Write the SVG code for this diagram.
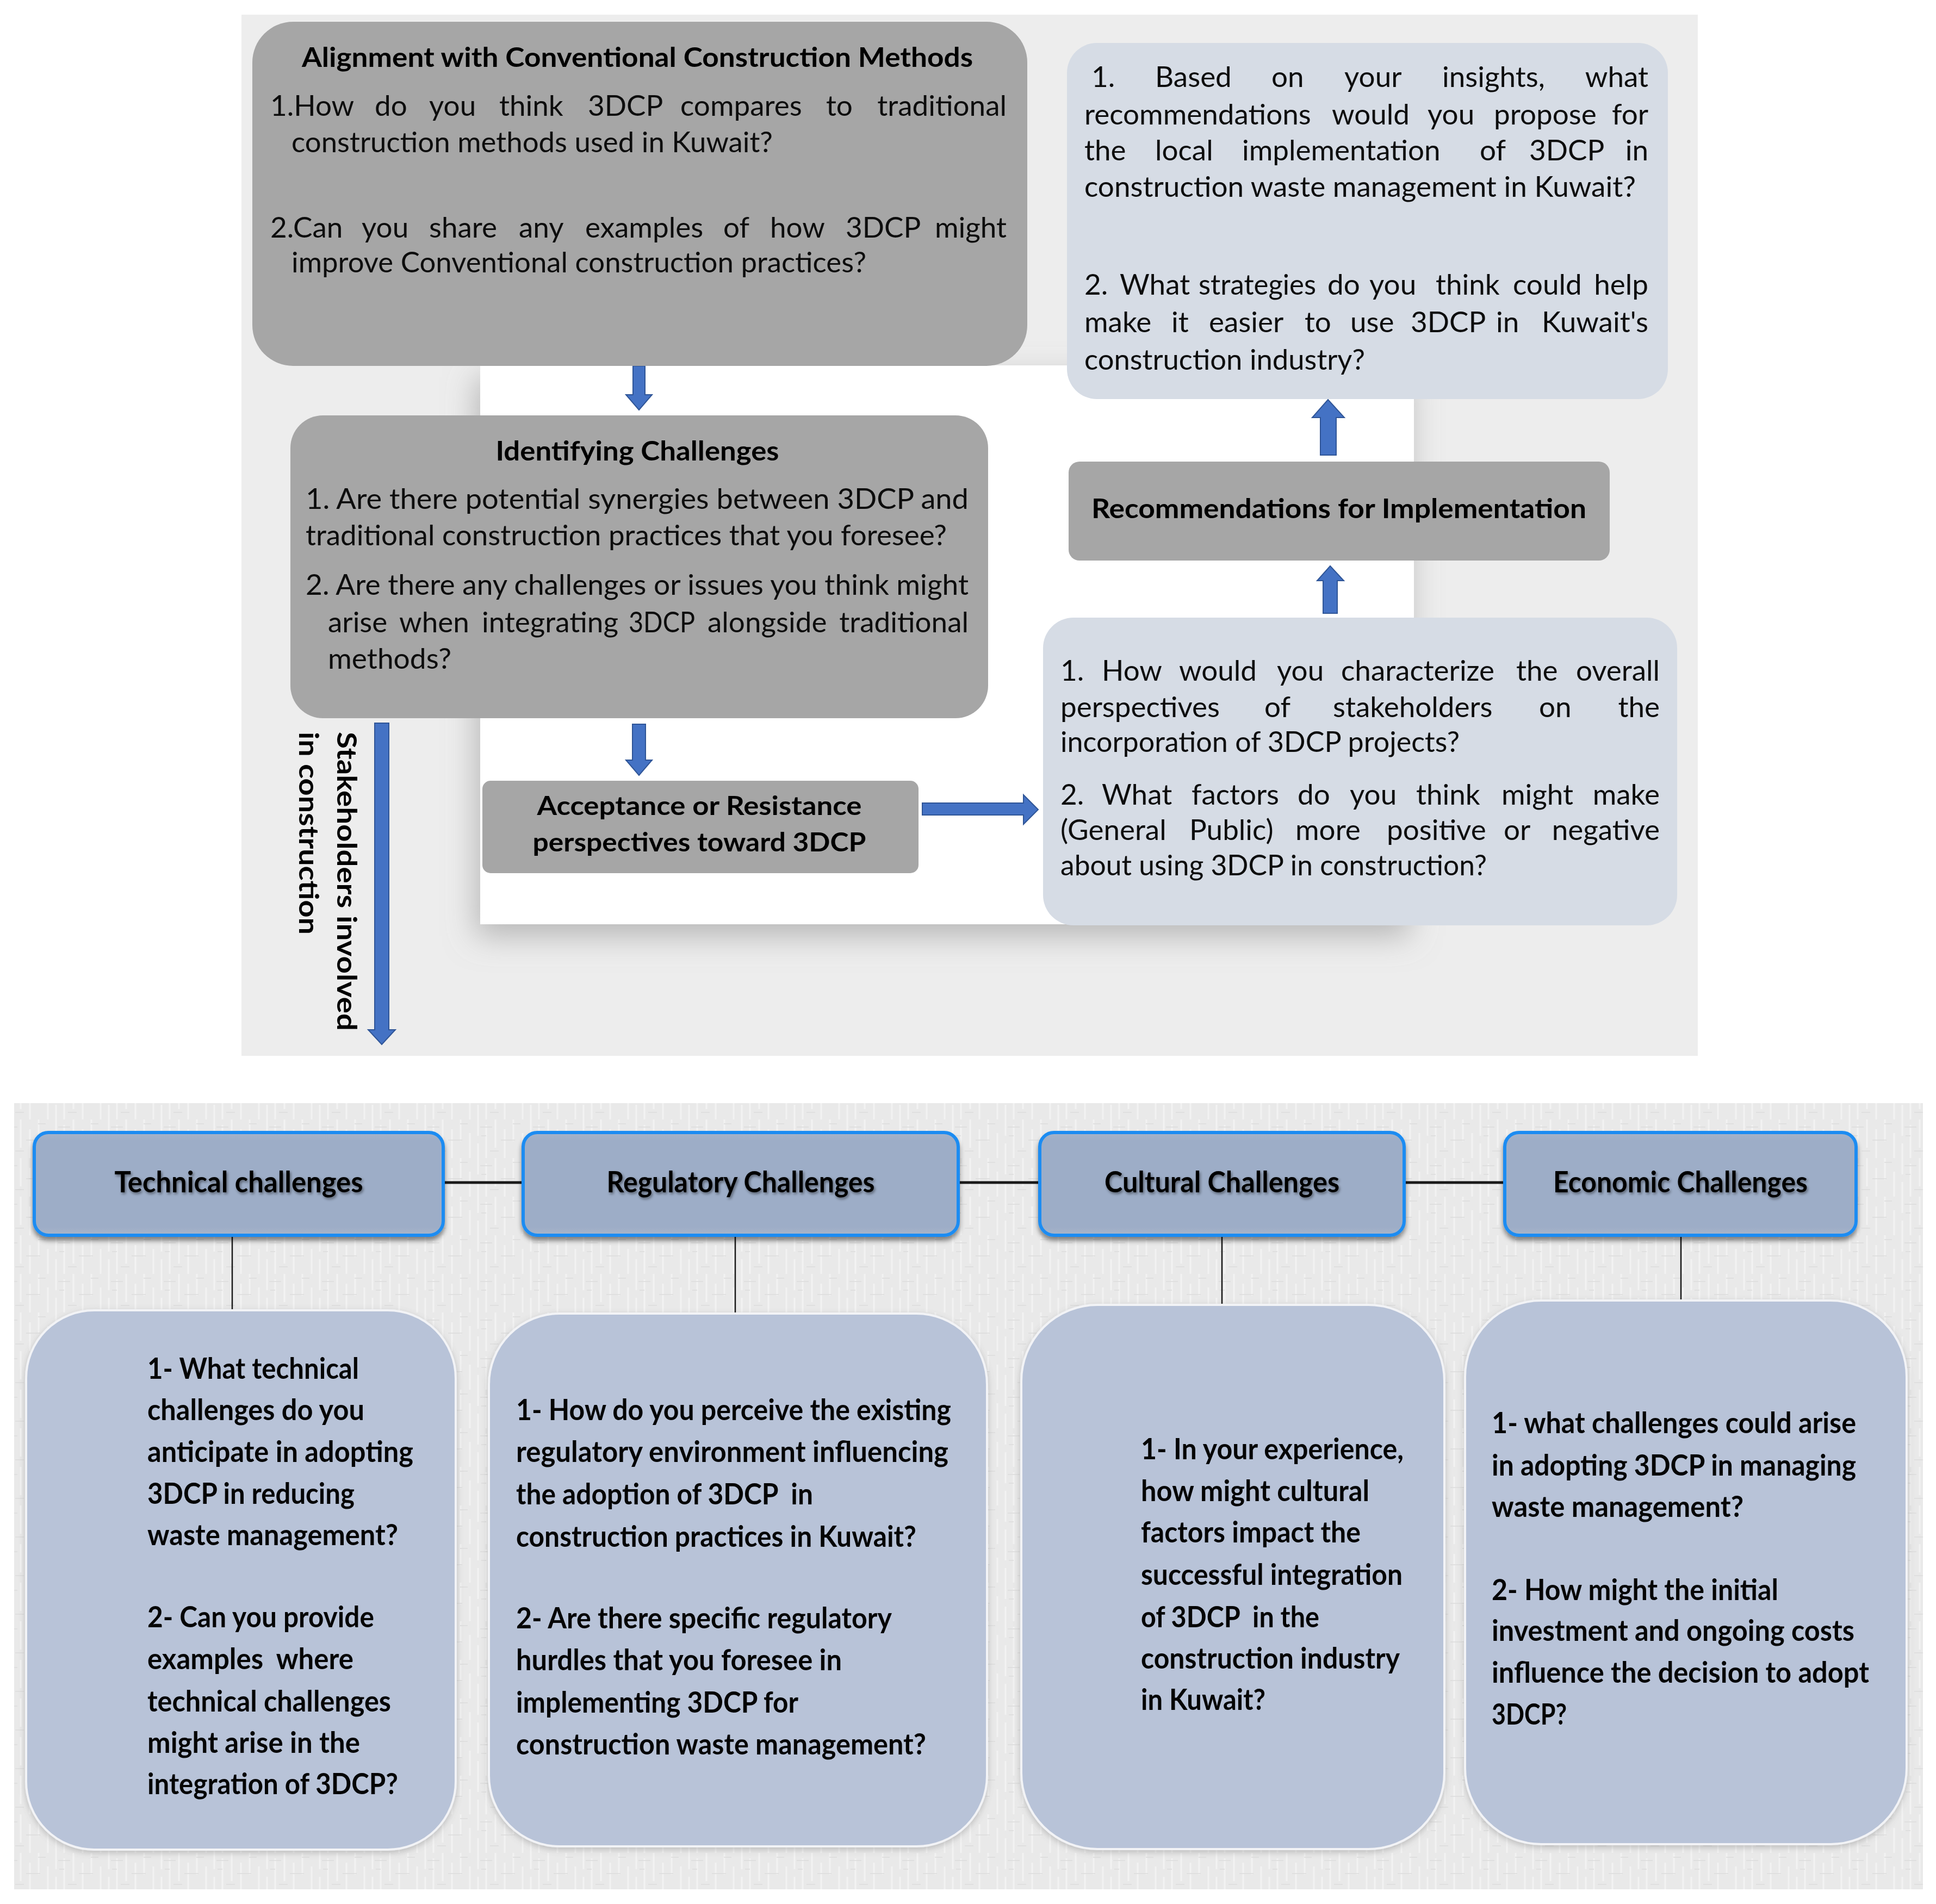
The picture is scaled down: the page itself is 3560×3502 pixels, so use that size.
<svg xmlns="http://www.w3.org/2000/svg" width="3560" height="3502" viewBox="0 0 3560 3502">
<defs>
<style>
text{font-family:Lato,"Open Sans","Liberation Sans",sans-serif;fill:#0d0d0d}
.b{font-size:53px}
.t{font-size:50px;font-weight:bold;fill:#000}
.bb{font-size:54px;font-weight:bold;fill:#050505}
.hd{font-size:54px;font-weight:bold;fill:#000;filter:url(#tsh)}
.gray{fill:#a6a6a6}
.light{fill:#d6dce5}
.arrow{fill:#4472c4;stroke:#2f5597;stroke-width:2}
.hbox{fill:url(#hgrad);stroke:#1b8cf2;stroke-width:6;filter:url(#sh)}
.body{fill:#b8c3d8;stroke:#f2f3f6;stroke-width:4;filter:url(#sh2)}
.ln{stroke:#1a1a1a;fill:none}
</style>
<linearGradient id="hgrad" x1="0" y1="0" x2="0" y2="1">
<stop offset="0" stop-color="#a6b3c9"/>
<stop offset="0.08" stop-color="#9dadc7"/>
<stop offset="0.92" stop-color="#9dadc7"/>
<stop offset="1" stop-color="#a9b5c9"/>
</linearGradient>
<filter id="sh" x="-10%" y="-10%" width="120%" height="140%">
<feDropShadow dx="0" dy="7" stdDeviation="4" flood-color="#000" flood-opacity="0.45"/>
</filter>
<filter id="sh2" x="-10%" y="-10%" width="120%" height="120%">
<feDropShadow dx="0" dy="4" stdDeviation="6" flood-color="#666" flood-opacity="0.35"/>
</filter>
<filter id="wsh" x="-10%" y="-10%" width="120%" height="130%">
<feDropShadow dx="-8" dy="22" stdDeviation="28" flood-color="#8a8a8a" flood-opacity="0.55"/>
</filter>
<filter id="tsh" x="-5%" y="-20%" width="110%" height="160%">
<feDropShadow dx="2" dy="3" stdDeviation="2.5" flood-color="#000" flood-opacity="0.45"/>
</filter>
<pattern id="tex" width="97" height="71" patternUnits="userSpaceOnUse">
<rect width="97" height="71" fill="#e9e9e9"/>
<path d="M6 0v30M6 44v27M21 10v61M38 0v52M55 18v53M71 0v40M88 25v46" stroke="#f4f4f4" stroke-width="3" opacity="0.8"/>
<path d="M10 14h22M48 38h26M28 58h16M70 8h14M12 30h9" stroke="#dcdcdc" stroke-width="2" opacity="0.8"/>
</pattern>
</defs>

<rect width="3560" height="3502" fill="#ffffff"/>

<!-- top panel background -->
<rect id="top-bg" x="444" y="27" width="2678" height="1915" fill="#ededed"/>
<rect id="top-white" x="883" y="672" width="1717" height="1028" fill="#ffffff" filter="url(#wsh)"/>

<!-- bottom panel background -->
<rect id="bottom-bg" x="26" y="2029" width="3510" height="1446" fill="url(#tex)"/>

<g id="connectors">
<path class="arrow" d="M1164,673 H1186 V726 H1199 L1175,754 L1151,726 H1164 Z"/>
<path class="arrow" d="M1163,1332 H1187 V1398 H1199 L1175,1426 L1151,1398 H1163 Z"/>
<path class="arrow" d="M689,1330 H715 V1894 H727 L702,1921 L677,1894 H689 Z"/>
<path class="arrow" d="M1696,1477 H1882 V1462 L1909,1489 L1882,1516 V1499 H1696 Z"/>
<path class="arrow" d="M2428,837 V768 H2413 L2442,735 L2472,768 H2457 V837 Z"/>
<path class="arrow" d="M2433,1128 V1068 H2422 L2446,1041 L2471,1068 H2459 V1128 Z"/>
<path class="ln" stroke-width="5" d="M815,2175 H962 M1762,2175 H1912 M2582,2175 H2767"/>
<path class="ln" stroke-width="2.5" d="M427,2272 V2412 M1352,2272 V2418 M2247,2272 V2401 M3091,2272 V2393"/>
</g>

<g id="stakeholders-label">
<text class="t" transform="translate(620,1346) rotate(90)" textLength="550" lengthAdjust="spacingAndGlyphs">Stakeholders involved</text>
<text class="t" transform="translate(550,1346) rotate(90)" textLength="373" lengthAdjust="spacingAndGlyphs">in construction</text>
</g>

<g id="alignment">
<rect class="gray" x="464" y="40" width="1425" height="633" rx="75"/>
<text class="t" x="1172" y="123" text-anchor="middle" textLength="1234" lengthAdjust="spacingAndGlyphs">Alignment with Conventional Construction Methods</text>
<text class="b" y="213"><tspan x="497">1.How</tspan><tspan x="689">do</tspan><tspan x="789">you</tspan><tspan x="918">think</tspan><tspan x="1081">3DCP</tspan><tspan x="1251">compares</tspan><tspan x="1519">to</tspan><tspan x="1851" text-anchor="end">traditional</tspan></text>
<text class="b" x="536" y="280" textLength="885" lengthAdjust="spacingAndGlyphs">construction methods used in Kuwait?</text>
<text class="b" y="437"><tspan x="497">2.Can</tspan><tspan x="665">you</tspan><tspan x="789">share</tspan><tspan x="954">any</tspan><tspan x="1076">examples</tspan><tspan x="1330">of</tspan><tspan x="1416">how</tspan><tspan x="1555">3DCP</tspan><tspan x="1851" text-anchor="end">might</tspan></text>
<text class="b" x="536" y="501" textLength="1057" lengthAdjust="spacingAndGlyphs">improve Conventional construction practices?</text>
</g>

<g id="recommend-questions">
<rect class="light" x="1962" y="79" width="1105" height="655" rx="55"/>
<text class="b" y="160"><tspan x="2007">1.</tspan><tspan x="2124">Based</tspan><tspan x="2338">on</tspan><tspan x="2472">your</tspan><tspan x="2652">insights,</tspan><tspan x="3031" text-anchor="end">what</tspan></text>
<text class="b" y="229"><tspan x="1994">recommendations</tspan><tspan x="2449">would</tspan><tspan x="2625">you</tspan><tspan x="2747">propose</tspan><tspan x="3031" text-anchor="end">for</tspan></text>
<text class="b" y="295"><tspan x="1994">the</tspan><tspan x="2124">local</tspan><tspan x="2284">implementation</tspan><tspan x="2721">of</tspan><tspan x="2812">3DCP</tspan><tspan x="3031" text-anchor="end">in</tspan></text>
<text class="b" x="1994" y="362" textLength="1014" lengthAdjust="spacingAndGlyphs">construction waste management in Kuwait?</text>
<text class="b" y="542"><tspan x="1994">2.</tspan><tspan x="2059">What</tspan><tspan x="2204" textLength="216" lengthAdjust="spacingAndGlyphs">strategies</tspan><tspan x="2441">do</tspan><tspan x="2518">you</tspan><tspan x="2640">think</tspan><tspan x="2782">could</tspan><tspan x="3031" text-anchor="end">help</tspan></text>
<text class="b" y="611"><tspan x="1994">make</tspan><tspan x="2154">it</tspan><tspan x="2223">easier</tspan><tspan x="2399">to</tspan><tspan x="2483">use</tspan><tspan x="2594">3DCP</tspan><tspan x="2751">in</tspan><tspan x="3031" text-anchor="end">Kuwait's</tspan></text>
<text class="b" x="1994" y="680" textLength="516" lengthAdjust="spacingAndGlyphs">construction industry?</text>
</g>

<g id="identifying">
<rect class="gray" x="534" y="764" width="1283" height="557" rx="60"/>
<text class="t" x="1172" y="847" text-anchor="middle" textLength="521" lengthAdjust="spacingAndGlyphs">Identifying Challenges</text>
<text class="b" x="562" y="936" textLength="1219" lengthAdjust="spacingAndGlyphs">1. Are there potential synergies between 3DCP and</text>
<text class="b" x="562" y="1003" textLength="1179" lengthAdjust="spacingAndGlyphs">traditional construction practices that you foresee?</text>
<text class="b" x="562" y="1094" textLength="1219" lengthAdjust="spacingAndGlyphs">2. Are there any challenges or issues you think might</text>
<text class="b" y="1163"><tspan x="603">arise</tspan><tspan x="734">when</tspan><tspan x="886">integrating</tspan><tspan x="1156" textLength="122" lengthAdjust="spacingAndGlyphs">3DCP</tspan><tspan x="1301">alongside</tspan><tspan x="1781" text-anchor="end">traditional</tspan></text>
<text class="b" x="603" y="1230" textLength="227" lengthAdjust="spacingAndGlyphs">methods?</text>
</g>

<g id="recommendations">
<rect class="gray" x="1965" y="849" width="995" height="182" rx="20"/>
<text class="t" x="2462" y="953" text-anchor="middle" font-size="46" textLength="910" lengthAdjust="spacingAndGlyphs">Recommendations for Implementation</text>
</g>

<g id="acceptance">
<rect class="gray" x="887" y="1436" width="802" height="170" rx="15"/>
<text class="t" x="1286" y="1499" text-anchor="middle" style="font-size:48px" textLength="597" lengthAdjust="spacingAndGlyphs">Acceptance or Resistance</text>
<text class="t" x="1286" y="1566" text-anchor="middle" style="font-size:48px" textLength="613" lengthAdjust="spacingAndGlyphs">perspectives toward 3DCP</text>
</g>

<g id="perspectives">
<rect class="light" x="1918" y="1136" width="1166" height="566" rx="56"/>
<text class="b" y="1252"><tspan x="1950">1.</tspan><tspan x="2026">How</tspan><tspan x="2168">would</tspan><tspan x="2348">you</tspan><tspan x="2466">characterize</tspan><tspan x="2788">the</tspan><tspan x="3052" text-anchor="end">overall</tspan></text>
<text class="b" y="1319"><tspan x="1950">perspectives</tspan><tspan x="2325">of</tspan><tspan x="2451">stakeholders</tspan><tspan x="2830">on</tspan><tspan x="3052" text-anchor="end">the</tspan></text>
<text class="b" x="1950" y="1383" textLength="734" lengthAdjust="spacingAndGlyphs">incorporation of 3DCP projects?</text>
<text class="b" y="1480"><tspan x="1950">2.</tspan><tspan x="2026">What</tspan><tspan x="2191">factors</tspan><tspan x="2386">do</tspan><tspan x="2482">you</tspan><tspan x="2604">think</tspan><tspan x="2761">might</tspan><tspan x="3052" text-anchor="end">make</tspan></text>
<text class="b" y="1545"><tspan x="1950">(General</tspan><tspan x="2187">Public)</tspan><tspan x="2382">more</tspan><tspan x="2550">positive</tspan><tspan x="2765">or</tspan><tspan x="3052" text-anchor="end">negative</tspan></text>
<text class="b" x="1950" y="1610" textLength="784" lengthAdjust="spacingAndGlyphs">about using 3DCP in construction?</text>
</g>

<g id="technical-header">
<rect class="hbox" x="63" y="2083" width="752" height="189" rx="26"/>
<text class="hd" x="439" y="2193" text-anchor="middle" textLength="457" lengthAdjust="spacingAndGlyphs">Technical challenges</text>
</g>
<g id="regulatory-header">
<rect class="hbox" x="962" y="2083" width="800" height="189" rx="26"/>
<text class="hd" x="1362" y="2193" text-anchor="middle" textLength="493" lengthAdjust="spacingAndGlyphs">Regulatory Challenges</text>
</g>
<g id="cultural-header">
<rect class="hbox" x="1912" y="2083" width="670" height="189" rx="26"/>
<text class="hd" x="2247" y="2193" text-anchor="middle" textLength="432" lengthAdjust="spacingAndGlyphs">Cultural Challenges</text>
</g>
<g id="economic-header">
<rect class="hbox" x="2767" y="2083" width="646" height="189" rx="26"/>
<text class="hd" x="3090" y="2193" text-anchor="middle" textLength="468" lengthAdjust="spacingAndGlyphs">Economic Challenges</text>
</g>

<g id="technical-questions">
<rect class="body" x="48" y="2410" width="790" height="992" rx="125"/>
<text class="bb" x="271" y="2536" textLength="389" lengthAdjust="spacingAndGlyphs">1- What technical</text>
<text class="bb" x="271" y="2612" textLength="399" lengthAdjust="spacingAndGlyphs">challenges do you</text>
<text class="bb" x="271" y="2689" textLength="489" lengthAdjust="spacingAndGlyphs">anticipate in adopting</text>
<text class="bb" x="271" y="2766" textLength="381" lengthAdjust="spacingAndGlyphs">3DCP in reducing</text>
<text class="bb" x="271" y="2842" textLength="461" lengthAdjust="spacingAndGlyphs">waste management?</text>
<text class="bb" x="271" y="2993" textLength="417" lengthAdjust="spacingAndGlyphs">2- Can you provide</text>
<text class="bb" x="271" y="3070" textLength="379" lengthAdjust="spacingAndGlyphs" style="white-space:pre">examples  where</text>
<text class="bb" x="271" y="3148" textLength="448" lengthAdjust="spacingAndGlyphs">technical challenges</text>
<text class="bb" x="271" y="3224" textLength="391" lengthAdjust="spacingAndGlyphs">might arise in the</text>
<text class="bb" x="271" y="3300" textLength="461" lengthAdjust="spacingAndGlyphs">integration of 3DCP?</text>
</g>

<g id="regulatory-questions">
<rect class="body" x="899" y="2416" width="916" height="980" rx="130"/>
<text class="bb" x="949" y="2612" textLength="800" lengthAdjust="spacingAndGlyphs">1- How do you perceive the existing</text>
<text class="bb" x="949" y="2689" textLength="795" lengthAdjust="spacingAndGlyphs">regulatory environment influencing</text>
<text class="bb" x="949" y="2767" textLength="546" lengthAdjust="spacingAndGlyphs" style="white-space:pre">the adoption of 3DCP  in</text>
<text class="bb" x="949" y="2845" textLength="736" lengthAdjust="spacingAndGlyphs">construction practices in Kuwait?</text>
<text class="bb" x="949" y="2995" textLength="691" lengthAdjust="spacingAndGlyphs">2- Are there specific regulatory</text>
<text class="bb" x="949" y="3072" textLength="599" lengthAdjust="spacingAndGlyphs">hurdles that you foresee in</text>
<text class="bb" x="949" y="3150" textLength="519" lengthAdjust="spacingAndGlyphs">implementing 3DCP for</text>
<text class="bb" x="949" y="3227" textLength="754" lengthAdjust="spacingAndGlyphs">construction waste management?</text>
</g>

<g id="cultural-questions">
<rect class="body" x="1878" y="2400" width="778" height="1001" rx="140"/>
<text class="bb" x="2098" y="2684" textLength="483" lengthAdjust="spacingAndGlyphs">1- In your experience,</text>
<text class="bb" x="2098" y="2761" textLength="420" lengthAdjust="spacingAndGlyphs">how might cultural</text>
<text class="bb" x="2098" y="2837" textLength="404" lengthAdjust="spacingAndGlyphs">factors impact the</text>
<text class="bb" x="2098" y="2915" textLength="481" lengthAdjust="spacingAndGlyphs">successful integration</text>
<text class="bb" x="2098" y="2993" textLength="328" lengthAdjust="spacingAndGlyphs" style="white-space:pre">of 3DCP  in the</text>
<text class="bb" x="2098" y="3069" textLength="476" lengthAdjust="spacingAndGlyphs">construction industry</text>
<text class="bb" x="2098" y="3145" textLength="229" lengthAdjust="spacingAndGlyphs">in Kuwait?</text>
</g>

<g id="economic-questions">
<rect class="body" x="2694" y="2392" width="812" height="1000" rx="140"/>
<text class="bb" x="2743" y="2636" textLength="670" lengthAdjust="spacingAndGlyphs">1- what challenges could arise</text>
<text class="bb" x="2743" y="2714" textLength="670" lengthAdjust="spacingAndGlyphs">in adopting 3DCP in managing</text>
<text class="bb" x="2743" y="2790" textLength="463" lengthAdjust="spacingAndGlyphs">waste management?</text>
<text class="bb" x="2743" y="2943" textLength="527" lengthAdjust="spacingAndGlyphs">2- How might the initial</text>
<text class="bb" x="2743" y="3018" textLength="667" lengthAdjust="spacingAndGlyphs">investment and ongoing costs</text>
<text class="bb" x="2743" y="3095" textLength="694" lengthAdjust="spacingAndGlyphs">influence the decision to adopt</text>
<text class="bb" x="2743" y="3172" textLength="138" lengthAdjust="spacingAndGlyphs">3DCP?</text>
</g>
</svg>
